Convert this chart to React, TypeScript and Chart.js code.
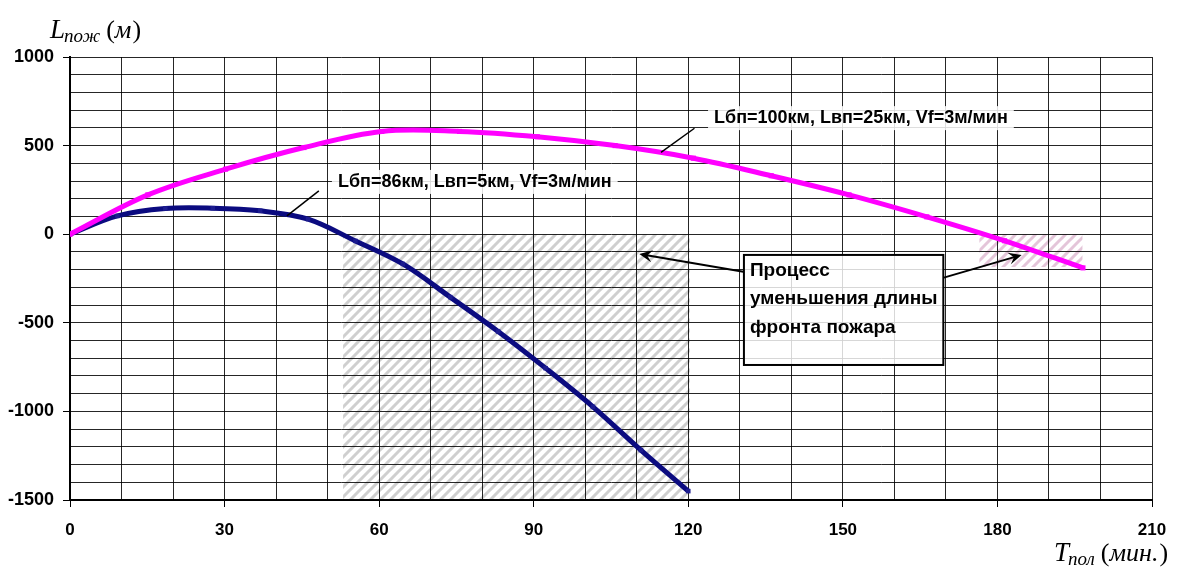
import React, { useEffect, useRef } from "react";
import { Chart, registerables } from "chart.js";

Chart.register(...registerables);

// ---- data ----
const seriesALabel = "Lбп=86км, Lвп=5км, Vf=3м/мин";
const seriesAT = [0, 9.2, 18.5, 27.7, 36.9, 46.2, 55.4, 64.6, 73.8, 83.1, 92.3, 101.5, 110.8, 120];
const seriesAL = [0, 103, 145, 147, 132, 85, -38, -168, -355, -549, -756, -974, -1218, -1450];

const seriesBLabel = "Lбп=100км, Lвп=25км, Vf=3м/мин";
const seriesBT = [0, 15.1, 30.2, 45.4, 60.5, 75.6, 90.7, 105.8, 121, 136.1, 151.2, 166.3, 181.4, 196.6];
const seriesBL = [0, 222, 367, 489, 580, 580, 550, 500, 429, 330, 222, 98, -37, -190];

const xTickMajor = [0, 30, 60, 90, 120, 150, 180, 210];
const yTickMajor = [-1500, -1000, -500, 0, 500, 1000];

// hatched regions: [tStart, tEnd, Lbottom, Ltop]
const hatchGray = [53, 120.3, -1500, 0];
const hatchPink = [176.5, 196.5, -185, 0];

const noteLines = ["Процесс", "уменьшения длины", "фронта пожара"];
const yTitleMain = "L";
const yTitleSub = "пож";
const yTitleUnit = "м";
const xTitleMain = "T";
const xTitleSub = "пол";
const xTitleUnit = "мин.";

const SANS = "'Liberation Sans', Arial, sans-serif";
const SERIF = "'Liberation Serif', 'Times New Roman', serif";

function makeHatch(color: string) {
  const c = document.createElement("canvas");
  c.width = 10;
  c.height = 10;
  const g = c.getContext("2d")!;
  g.strokeStyle = color;
  g.lineWidth = 3;
  g.lineCap = "square";
  g.beginPath();
  g.moveTo(-1, 11);
  g.lineTo(11, -1);
  g.moveTo(-6, 6);
  g.lineTo(6, -6);
  g.moveTo(4, 16);
  g.lineTo(16, 4);
  g.stroke();
  return c;
}

function arrow(ctx: CanvasRenderingContext2D, x1: number, y1: number, x2: number, y2: number) {
  const ang = Math.atan2(y2 - y1, x2 - x1);
  const len = 13;
  const half = 6;
  ctx.save();
  ctx.strokeStyle = "#000";
  ctx.fillStyle = "#000";
  ctx.lineWidth = 2;
  ctx.beginPath();
  ctx.moveTo(x1, y1);
  ctx.lineTo(x2 - Math.cos(ang) * 6, y2 - Math.sin(ang) * 6);
  ctx.stroke();
  ctx.translate(x2, y2);
  ctx.rotate(ang);
  ctx.beginPath();
  ctx.moveTo(0, 0);
  ctx.lineTo(-len, -half);
  ctx.lineTo(-len + 5, 0);
  ctx.lineTo(-len, half);
  ctx.closePath();
  ctx.fill();
  ctx.restore();
}

const isMul = (v: number, m: number) => Math.abs(v / m - Math.round(v / m)) < 1e-6;

export default function App() {
  const ref = useRef<HTMLCanvasElement | null>(null);

  useEffect(() => {
    if (!ref.current) return;
    const grayPat = ref.current.getContext("2d")!.createPattern(makeHatch("rgba(175,175,175,0.6)"), "repeat");
    const pinkPat = ref.current.getContext("2d")!.createPattern(makeHatch("rgba(205,150,185,0.55)"), "repeat");

    const bgPlugin = {
      id: "bgHatch",
      beforeDraw(chart: any) {
        const { ctx, scales } = chart;
        const xs = scales.x;
        const ys = scales.y;
        ctx.save();
        ctx.fillStyle = "#fff";
        ctx.fillRect(0, 0, chart.width, chart.height);
        const drawRect = (r: number[], pat: any) => {
          const x1 = xs.getPixelForValue(r[0]);
          const x2 = xs.getPixelForValue(r[1]);
          const y1 = ys.getPixelForValue(r[3]);
          const y2 = ys.getPixelForValue(r[2]);
          ctx.fillStyle = pat;
          ctx.fillRect(x1, y1, x2 - x1, y2 - y1);
        };
        drawRect(hatchGray, grayPat);
        drawRect(hatchPink, pinkPat);
        ctx.restore();
      },
    };

    const annoPlugin = {
      id: "annos",
      afterDraw(chart: any) {
        const { ctx, scales } = chart;
        const X = (v: number) => scales.x.getPixelForValue(v);
        const Y = (v: number) => scales.y.getPixelForValue(v);
        ctx.save();

        const label = (text: string, tx: number, ty: number, lx1: number, ly1: number, lx2: number, ly2: number) => {
          ctx.font = `bold 18px ${SANS}`;
          const w = ctx.measureText(text).width;
          const px = X(tx);
          const py = Y(ty);
          ctx.fillStyle = "rgba(255,255,255,0.85)";
          ctx.fillRect(px - 6, py - 12, w + 12, 24);
          ctx.fillStyle = "#000";
          ctx.textAlign = "left";
          ctx.textBaseline = "middle";
          ctx.fillText(text, px, py);
          ctx.strokeStyle = "#000";
          ctx.lineWidth = 1.5;
          ctx.beginPath();
          ctx.moveTo(X(lx1), Y(ly1));
          ctx.lineTo(X(lx2), Y(ly2));
          ctx.stroke();
        };
        label(seriesALabel, 52, 295, 42.1, 103, 48.3, 244);
        label(seriesBLabel, 125, 655, 114.7, 462, 121.2, 598);

        const bx1 = X(130.8), bx2 = X(169.5);
        const by1 = Y(-117), by2 = Y(-738);
        ctx.fillStyle = "rgba(255,255,255,0.82)";
        ctx.fillRect(bx1, by1, bx2 - bx1, by2 - by1);
        ctx.strokeStyle = "#000";
        ctx.lineWidth = 2;
        ctx.strokeRect(bx1, by1, bx2 - bx1, by2 - by1);
        ctx.fillStyle = "#000";
        ctx.font = `bold 19px ${SANS}`;
        ctx.textAlign = "left";
        ctx.textBaseline = "middle";
        noteLines.forEach((t, i) => ctx.fillText(t, bx1 + 6, by1 + 16 + i * 28.3));

        arrow(ctx, X(130.7), Y(-212), X(110.5), Y(-112));
        arrow(ctx, X(169.6), Y(-245), X(184.7), Y(-117));

        const title = (x: number, base: number, main: string, sub: string, unit: string) => {
          ctx.textAlign = "left";
          ctx.textBaseline = "alphabetic";
          ctx.fillStyle = "#000";
          let cx = x;
          ctx.font = `italic 27px ${SERIF}`;
          ctx.fillText(main, cx, base);
          cx += ctx.measureText(main).width - 1;
          ctx.font = `italic 19px ${SERIF}`;
          ctx.fillText(sub, cx, base + 4);
          cx += ctx.measureText(sub).width + 6;
          ctx.font = `26px ${SERIF}`;
          ctx.fillText("(", cx, base);
          cx += ctx.measureText("(").width;
          ctx.font = `italic 26px ${SERIF}`;
          ctx.fillText(unit, cx, base);
          cx += ctx.measureText(unit).width + 1;
          ctx.font = `26px ${SERIF}`;
          ctx.fillText(")", cx, base);
        };
        title(50, 38, yTitleMain, yTitleSub, yTitleUnit);
        title(1054, 561, xTitleMain, xTitleSub, xTitleUnit);

        ctx.restore();
      },
    };

    const chart = new Chart(ref.current, {
      type: "line",
      data: {
        datasets: [
          {
            label: seriesBLabel,
            data: seriesBT.map((t, i) => ({ x: t, y: seriesBL[i] })),
            borderColor: "#ff00ff",
            backgroundColor: "#ff00ff",
            borderWidth: 5,
            pointRadius: 3.6,
            pointStyle: "rect",
            pointBorderWidth: 0,
            tension: 0.35,
          },
          {
            label: seriesALabel,
            data: seriesAT.map((t, i) => ({ x: t, y: seriesAL[i] })),
            borderColor: "#0b0b80",
            backgroundColor: "#1c1c90",
            borderWidth: 5,
            pointRadius: 3.2,
            pointStyle: "rect",
            pointBorderWidth: 0,
            tension: 0.35,
          },
        ],
      },
      options: {
        responsive: false,
        animation: false,
        events: [],
        layout: { padding: { top: 57, right: 40, left: 0, bottom: 0 } },
        plugins: { legend: { display: false }, tooltip: { enabled: false } },
        scales: {
          x: {
            type: "linear",
            min: 0,
            max: 210,
            afterFit: (s: any) => {
              s.height = 78;
            },
            ticks: {
              stepSize: 10,
              autoSkip: false,
              maxRotation: 0,
              padding: 13,
              color: "#000",
              font: { family: SANS, size: 17, weight: "bold" },
              callback: (v: any) => (xTickMajor.includes(Number(v)) ? String(v) : ""),
            },
            grid: {
              color: "rgba(0,0,0,0.85)",
              lineWidth: 1,
              tickLength: 7,
              tickColor: (c: any) => (c.tick && isMul(c.tick.value, 30) ? "#000" : "rgba(0,0,0,0)"),
            },
            border: { display: true, color: "#000", width: 2 },
          },
          y: {
            type: "linear",
            min: -1500,
            max: 1000,
            afterFit: (s: any) => {
              s.width = 70;
            },
            ticks: {
              stepSize: 100,
              autoSkip: false,
              padding: 9,
              color: "#000",
              font: { family: SANS, size: 18, weight: "bold" },
              callback: (v: any) => (yTickMajor.includes(Number(v)) ? String(v) : ""),
            },
            grid: {
              color: "rgba(0,0,0,0.85)",
              lineWidth: 1,
              tickLength: 7,
              tickColor: (c: any) => (c.tick && isMul(c.tick.value, 500) ? "#000" : "rgba(0,0,0,0)"),
            },
            border: { display: true, color: "#000", width: 2 },
          },
        },
      },
      plugins: [bgPlugin, annoPlugin],
    } as any);

    return () => chart.destroy();
  }, []);

  return (
    <div style={{ position: "absolute", left: 0, top: 0, width: 1192, height: 578, background: "#fff" }}>
      <canvas ref={ref} width={1192} height={578} style={{ width: 1192, height: 578, display: "block" }} />
    </div>
  );
}
